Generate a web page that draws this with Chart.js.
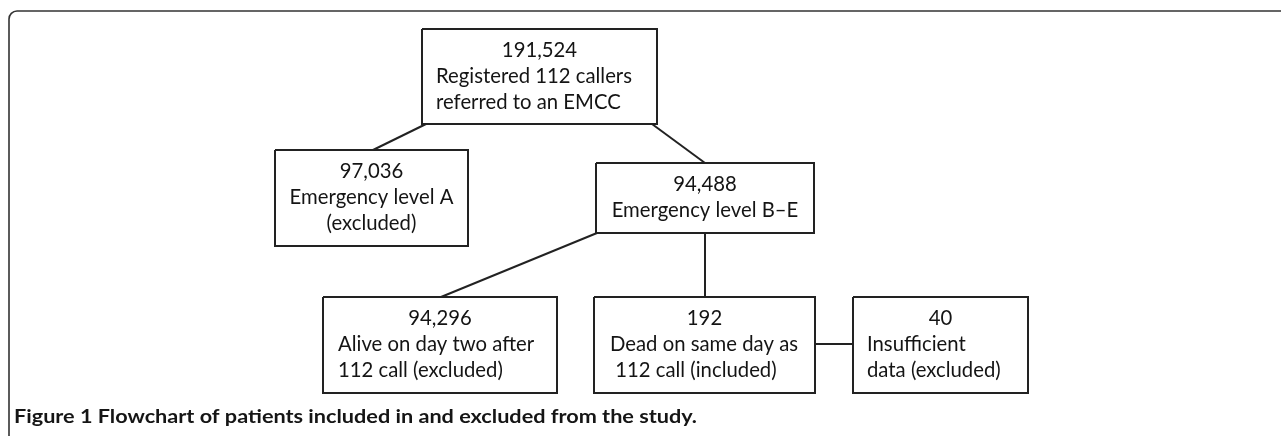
<!DOCTYPE html>
<html>
<head>
<meta charset="utf-8">
<script src="https://cdn.jsdelivr.net/npm/chart.js@4.4.1/dist/chart.umd.min.js"></script>
<style>
html,body{margin:0;padding:0;background:#fff;}
#wrap{width:1281px;height:436px;position:relative;}
canvas{display:block;}
</style>
</head>
<body>
<div id="wrap"><canvas id="c" width="1281" height="436"></canvas></div>
<script>
// ---- data ----
const nodeCounts = ['191,524', '97,036', '94,488', '94,296', '192', '40'];
const nodeLabels = [
  ['Registered 112 callers', 'referred to an EMCC'],
  ['Emergency level A', '(excluded)'],
  ['Emergency level B\u2013E'],
  ['Alive on day two after', '112 call (excluded)'],
  ['Dead on same day as', ' 112 call (included)'],
  ['Insufficient', 'data (excluded)']
];
const edges = [[0, 1], [0, 2], [2, 3], [2, 4], [4, 5]];
const captionBold = 'Figure 1';
const captionText = ' Flowchart of patients included in and excluded from the study.';

// ---- layout (positions in chart units, y grows downward) ----
const boxLayout = [
  {x0: 422, y0: 29,  x1: 657, y1: 124, align: 'left',   pad: 14},
  {x0: 275, y0: 150, x1: 468, y1: 246, align: 'center', pad: 0},
  {x0: 596, y0: 163, x1: 814, y1: 233, align: 'center', pad: 0},
  {x0: 323, y0: 297, x1: 557, y1: 393, align: 'left',   pad: 15},
  {x0: 594, y0: 297, x1: 815, y1: 393, align: 'left',   pad: 16},
  {x0: 853, y0: 297, x1: 1028, y1: 393, align: 'left',  pad: 14}
];
const edgeAnchors = [
  [{x: 426, y: 124}, {x: 373, y: 150}],
  [{x: 652, y: 124}, {x: 705, y: 163}],
  [{x: 597, y: 233}, {x: 441, y: 297}],
  [{x: 705, y: 233}, {x: 705, y: 297}],
  [{x: 815, y: 344}, {x: 853, y: 344}]
];

const W = 1281, H = 436;
const INK = '#141414';
const LINE = '#222222';
const FAM = 'Lato, "Open Sans", sans-serif';
const BOX_FONT = 22, CAP_FONT = 19;

const datasets = [];
edges.forEach((e, i) => {
  datasets.push({
    data: edgeAnchors[i],
    showLine: true, borderColor: LINE, borderWidth: 2,
    pointRadius: 0, tension: 0, fill: false
  });
});
boxLayout.forEach(b => {
  datasets.push({
    data: [{x: b.x0, y: b.y0}, {x: b.x1, y: b.y0}, {x: b.x1, y: b.y1}, {x: b.x0, y: b.y1}, {x: b.x0, y: b.y0}],
    showLine: true, borderColor: LINE, borderWidth: 2,
    pointRadius: 0, tension: 0, fill: false, borderJoinStyle: 'miter'
  });
});

function drawSquished(ctx, text, x, y, align, sx) {
  const w = ctx.measureText(text).width * sx;
  let left = x;
  if (align === 'center') left = x - w / 2;
  ctx.save();
  ctx.translate(left, y);
  ctx.scale(sx, 1);
  ctx.textAlign = 'left';
  ctx.fillText(text, 0, 0);
  ctx.restore();
}

const flowPlugin = {
  id: 'flow',
  beforeDatasetsDraw(chart) {
    const ctx = chart.ctx, xs = chart.scales.x, ys = chart.scales.y;
    const px = v => xs.getPixelForValue(v), py = v => ys.getPixelForValue(v);
    ctx.save();
    ctx.strokeStyle = '#333';
    ctx.lineWidth = 1.6;
    const fx = px(9), fy = py(11), r = 8;
    ctx.beginPath();
    ctx.moveTo(fx, py(H + 2));
    ctx.lineTo(fx, fy + r);
    ctx.arcTo(fx, fy, fx + r, fy, r);
    ctx.lineTo(px(W), fy);
    ctx.stroke();
    ctx.restore();
  },
  afterDatasetsDraw(chart) {
    const ctx = chart.ctx, xs = chart.scales.x, ys = chart.scales.y;
    const px = v => xs.getPixelForValue(v), py = v => ys.getPixelForValue(v);
    ctx.save();
    ctx.font = BOX_FONT + 'px ' + FAM;
    const sx = 196 / ctx.measureText('Registered 112 callers').width;
    ctx.fillStyle = INK;
    ctx.textBaseline = 'middle';
    boxLayout.forEach((b, i) => {
      const cx = px((b.x0 + b.x1) / 2);
      let y = py(b.y0 + 21);
      drawSquished(ctx, nodeCounts[i], cx, y, 'center', sx);
      nodeLabels[i].forEach(line => {
        y += 26;
        if (b.align === 'center') drawSquished(ctx, line, cx, y, 'center', sx);
        else drawSquished(ctx, line, px(b.x0 + b.pad), y, 'left', sx);
      });
    });
    ctx.font = 'bold ' + CAP_FONT + 'px ' + FAM;
    const csx = 683 / ctx.measureText(captionBold + captionText).width;
    ctx.fillStyle = '#151515';
    drawSquished(ctx, captionBold + captionText, px(14), py(417), 'left', csx);
    ctx.restore();
  }
};

function build() {
  new Chart(document.getElementById('c'), {
    type: 'scatter',
    data: {datasets},
    options: {
      responsive: false,
      animation: false,
      events: [],
      layout: {padding: 0},
      plugins: {legend: {display: false}, tooltip: {enabled: false}},
      scales: {
        x: {type: 'linear', min: 0, max: W, display: false},
        y: {type: 'linear', min: 0, max: H, reverse: true, display: false}
      }
    },
    plugins: [flowPlugin]
  });
}
if (document.fonts && document.fonts.load) {
  Promise.all([document.fonts.load('20px Lato'), document.fonts.load('bold 20px Lato')]).then(build, build);
} else { build(); }
</script>
</body>
</html>
